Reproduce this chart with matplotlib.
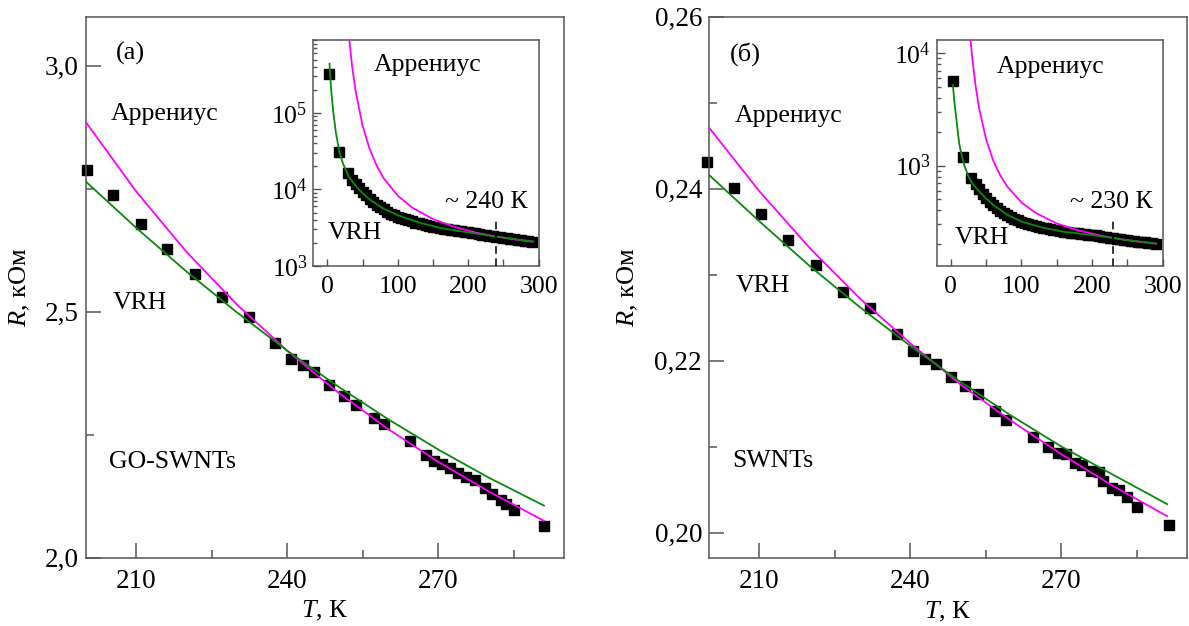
import matplotlib
matplotlib.use('Agg')
import matplotlib.pyplot as plt
from matplotlib.ticker import FixedLocator, FuncFormatter, LogLocator, NullFormatter, LogFormatterSciNotation

plt.rcParams['font.family'] = ['Liberation Serif', 'DejaVu Serif']
plt.rcParams['mathtext.fontset'] = 'custom'
plt.rcParams['mathtext.rm'] = 'Liberation Serif'
plt.rcParams['mathtext.it'] = 'Liberation Serif:italic'

# ---- panel (a): GO-SWNTs, main plot (R in kOhm) ----
T_a = [200.3, 205.4, 210.9, 216.1, 221.8, 227.0, 232.4, 237.6, 240.8, 243.1, 245.3,
       248.4, 251.2, 253.7, 257.3, 259.2, 264.4, 267.5, 269.1, 270.8, 272.3, 273.9,
       275.6, 277.3, 279.2, 280.7, 282.4, 283.4, 285.1, 291.0]
R_a = [2.789, 2.738, 2.679, 2.628, 2.577, 2.530, 2.490, 2.437, 2.405, 2.391, 2.377,
       2.351, 2.328, 2.310, 2.285, 2.271, 2.237, 2.209, 2.197, 2.190, 2.182, 2.173,
       2.165, 2.159, 2.141, 2.129, 2.117, 2.109, 2.097, 2.064]
T_fit = [200, 210, 220, 230, 240, 250, 260, 270, 280, 291]
arr_a = [2.886, 2.745, 2.622, 2.515, 2.421, 2.337, 2.262, 2.195, 2.135, 2.075]
vrh_a = [2.765, 2.671, 2.582, 2.499, 2.421, 2.349, 2.282, 2.220, 2.163, 2.106]

# ---- panel (b): SWNTs, main plot ----
T_b = [199.7, 205.0, 210.4, 215.7, 221.3, 226.7, 232.0, 237.4, 240.6, 242.9, 245.0,
       248.1, 250.9, 253.5, 256.9, 259.0, 264.4, 267.3, 269.4, 271.0, 272.7, 274.0,
       275.8, 277.4, 278.2, 280.0, 281.5, 283.0, 285.1, 291.3]
R_b = [0.2431, 0.2401, 0.2371, 0.2340, 0.2311, 0.2280, 0.2261, 0.2231, 0.2211, 0.2202,
       0.2196, 0.2181, 0.2170, 0.2161, 0.2141, 0.2131, 0.2111, 0.2100, 0.2092, 0.2091,
       0.2081, 0.2079, 0.2071, 0.2070, 0.2060, 0.2052, 0.2050, 0.2041, 0.2030, 0.2009]
arr_b = [0.2471, 0.2397, 0.2331, 0.2272, 0.2220, 0.2172, 0.2130, 0.2091, 0.2055, 0.2019]
vrh_b = [0.2416, 0.2362, 0.2310, 0.2262, 0.2217, 0.2175, 0.2136, 0.2100, 0.2068, 0.2033]

# ---- insets (R in Ohm, log scale) ----
T_in = [3, 17, 29, 35, 40, 45, 50, 55, 60, 65, 70, 75, 80, 85, 90, 95, 100, 105, 110,
        115, 120, 125, 130, 135, 140, 145, 150, 155, 160, 165, 170, 175, 180, 185, 190,
        195, 200, 205, 210, 215, 220, 225, 230, 235, 240, 245, 250, 255, 260, 265, 270,
        275, 280, 285, 290]
Rin_a = [3.2e5, 3.1e4, 1.65e4, 1.35e4, 1.18e4, 1.04e4, 9.3e3, 8.4e3, 7.6e3, 6.9e3,
         6.3e3, 5.9e3, 5.5e3, 5.15e3, 4.85e3, 4.6e3, 4.4e3, 4.25e3, 4.1e3, 3.95e3,
         3.82e3, 3.7e3, 3.6e3, 3.5e3, 3.42e3, 3.35e3, 3.28e3, 3.21e3, 3.15e3, 3.09e3,
         3.03e3, 2.98e3, 2.93e3, 2.88e3, 2.84e3, 2.80e3, 2.78e3, 2.74e3, 2.68e3, 2.63e3,
         2.58e3, 2.53e3, 2.49e3, 2.45e3, 2.41e3, 2.38e3, 2.34e3, 2.30e3, 2.27e3, 2.24e3,
         2.20e3, 2.16e3, 2.13e3, 2.10e3, 2.07e3]
Rin_b = [5.6e3, 1.19e3, 775, 680, 615, 560, 515, 478, 447, 420, 398, 378, 362, 348, 336,
         325, 316, 308, 301, 295, 290, 285, 280, 276, 272, 268, 265, 262, 259, 256, 253.5,
         251, 249, 246.5, 244.5, 242.5, 243, 240, 237, 234, 231, 228.5, 226, 223.5, 221,
         219.5, 217, 215, 213, 211, 209, 207.5, 205.5, 203, 201]

T_vrh_in_a = [3, 5, 8, 12, 17, 22, 30, 40, 50, 60, 80, 100, 130, 160, 200, 240, 270, 292]
vrh_in_a = [4.4e5, 2.2e5, 1.1e5, 5.6e4, 3.1e4, 2.2e4, 1.5e4, 1.12e4, 8.9e3, 7.4e3,
            5.6e3, 4.6e3, 3.7e3, 3.15e3, 2.74e3, 2.42e3, 2.22e3, 2.10e3]
T_arr_in_a = [30, 35, 40, 50, 60, 70, 80, 100, 120, 150, 180, 210, 240, 270, 291]
arr_in_a = [1.14e6, 4.17e5, 1.96e5, 6.83e4, 3.38e4, 2.05e4, 1.40e4, 8.29e3, 5.83e3,
            4.10e3, 3.25e3, 2.74e3, 2.42e3, 2.195e3, 2.075e3]

T_vrh_in_b = [3, 5, 8, 12, 17, 20, 25, 30, 40, 50, 60, 80, 100, 130, 160, 200, 240, 270, 291]
vrh_in_b = [5.2e3, 3.7e3, 2.55e3, 1.55e3, 1.12e3, 970, 800, 700, 590, 510, 448, 365,
            318, 281, 258, 241.6, 221.7, 210, 203.3]
T_arr_in_b = [27, 30, 35, 40, 50, 60, 70, 80, 100, 120, 150, 180, 210, 240, 270, 291]
arr_in_b = [1.54e4, 9.55e3, 5.17e3, 3.26e3, 1.71e3, 1.11e3, 819, 650, 471, 380, 306,
            266, 240, 222, 209, 202]

GREY = '#555555'
MAG = '#ff00ff'
GRN = '#0a8a0a'


def style_main(ax):
    for s in ax.spines.values():
        s.set_color(GREY)
        s.set_linewidth(1.1)
    ax.tick_params(which='both', direction='in', top=False, right=False,
                   color=GREY, labelsize=19.5, width=1.1)
    ax.tick_params(which='major', length=11, pad=5)
    ax.tick_params(axis='x', which='major', pad=8)
    ax.tick_params(which='minor', length=6)
    ax.xaxis.set_major_locator(FixedLocator([210, 240, 270]))
    ax.xaxis.set_minor_locator(FixedLocator([225, 255, 285]))
    ax.set_xlim(200, 295)
    ax.set_xlabel('$T$, К', fontsize=19)


def style_inset(ax):
    for s in ax.spines.values():
        s.set_color(GREY)
        s.set_linewidth(1.1)
    ax.set_yscale('log')
    ax.tick_params(which='both', direction='in', top=False, right=False,
                   color=GREY, labelsize=18.5, width=1.0)
    ax.tick_params(axis='y', which='major', length=6, pad=4)
    ax.tick_params(axis='y', which='minor', length=3)
    ax.tick_params(axis='x', which='both', length=5, pad=7)
    ax.xaxis.set_major_locator(FixedLocator([0, 100, 200, 300]))
    ax.xaxis.set_minor_locator(FixedLocator([50, 150, 250]))
    ax.yaxis.set_major_locator(LogLocator(base=10))
    ax.yaxis.set_major_formatter(LogFormatterSciNotation())
    ax.yaxis.set_minor_locator(LogLocator(base=10, subs=range(2, 10)))
    ax.yaxis.set_minor_formatter(NullFormatter())
    ax.set_xlim(-20, 301)


fig = plt.figure(figsize=(11.89, 6.26), dpi=100)
ax_a = fig.add_axes([0.0721, 0.1091, 0.4023, 0.8642])
ax_b = fig.add_axes([0.5963, 0.1081, 0.4023, 0.8652])
ins_a = fig.add_axes([0.2635, 0.5751, 0.1901, 0.3610])
ins_b = fig.add_axes([0.7878, 0.5751, 0.1906, 0.3610])

# main (a)
style_main(ax_a)
ax_a.plot(T_a, R_a, 's', color='black', ms=7, zorder=2, clip_on=False)
ax_a.plot(T_fit, arr_a, color=MAG, lw=1.3, zorder=3)
ax_a.plot(T_fit, vrh_a, color=GRN, lw=1.3, zorder=3)
ax_a.set_ylim(2.0, 3.1)
ax_a.yaxis.set_major_locator(FixedLocator([2.0, 2.5, 3.0]))
ax_a.yaxis.set_minor_locator(FixedLocator([2.25, 2.75]))
ax_a.yaxis.set_major_formatter(FuncFormatter(lambda v, p: f'{v:.1f}'.replace('.', ',')))
ax_a.set_ylabel('$R$, кОм', fontsize=19)
ax_a.yaxis.set_label_coords(-0.112, 0.5)
ax_a.xaxis.set_label_coords(0.5, -0.076)
ax_a.text(0.0634, 0.933, '(а)', transform=ax_a.transAxes, fontsize=19, va='center')
ax_a.text(0.053, 0.820, 'Аррениус', transform=ax_a.transAxes, fontsize=18.5, va='center')
ax_a.text(0.057, 0.4706, 'VRH', transform=ax_a.transAxes, fontsize=18.5, va='center')
ax_a.text(0.0487, 0.177, 'GO-SWNTs', transform=ax_a.transAxes, fontsize=18.5, va='center')

# main (b)
style_main(ax_b)
ax_b.plot(T_b, R_b, 's', color='black', ms=7, zorder=2, clip_on=False)
ax_b.plot(T_fit, arr_b, color=MAG, lw=1.3, zorder=3)
ax_b.plot(T_fit, vrh_b, color=GRN, lw=1.3, zorder=3)
ax_b.set_ylim(0.197, 0.26)
ax_b.yaxis.set_major_locator(FixedLocator([0.20, 0.22, 0.24, 0.26]))
ax_b.yaxis.set_minor_locator(FixedLocator([0.21, 0.23, 0.25]))
ax_b.yaxis.set_major_formatter(FuncFormatter(lambda v, p: f'{v:.2f}'.replace('.', ',')))
ax_b.set_ylabel('$R$, кОм', fontsize=19)
ax_b.yaxis.set_label_coords(-0.144, 0.5)
ax_b.xaxis.set_label_coords(0.5, -0.076)
ax_b.text(0.0439, 0.931, '(б)', transform=ax_b.transAxes, fontsize=19, va='center')
ax_b.text(0.0544, 0.8166, 'Аррениус', transform=ax_b.transAxes, fontsize=18.5, va='center')
ax_b.text(0.0565, 0.502, 'VRH', transform=ax_b.transAxes, fontsize=18.5, va='center')
ax_b.text(0.048, 0.180, 'SWNTs', transform=ax_b.transAxes, fontsize=18.5, va='center')

# inset (a)
style_inset(ins_a)
ins_a.plot(T_in, Rin_a, 's', color='black', ms=6.5, zorder=2)
ins_a.plot(T_arr_in_a, arr_in_a, color=MAG, lw=1.3, zorder=3)
ins_a.plot(T_vrh_in_a, vrh_in_a, color=GRN, lw=1.3, zorder=3)
ins_a.set_ylim(1e3, 9e5)
ins_a.plot([240, 240], [1e3, 4.0e3], color='black', lw=1.1, ls=(0, (5, 3)), zorder=4)
ins_a.text(0.269, 0.889, 'Аррениус', transform=ins_a.transAxes, fontsize=18.5, va='center')
ins_a.text(0.065, 0.146, 'VRH', transform=ins_a.transAxes, fontsize=18.5, va='center')
ins_a.text(0.582, 0.283, '~ 240 К', transform=ins_a.transAxes, fontsize=18.5, va='center')

# inset (b)
style_inset(ins_b)
ins_b.plot(T_in, Rin_b, 's', color='black', ms=6.5, zorder=2)
ins_b.plot(T_arr_in_b, arr_in_b, color=MAG, lw=1.3, zorder=3)
ins_b.plot(T_vrh_in_b, vrh_in_b, color=GRN, lw=1.3, zorder=3)
ins_b.set_ylim(128, 1.31e4)
ins_b.plot([230, 230], [128, 340], color='black', lw=1.1, ls=(0, (5, 3)), zorder=4)
ins_b.text(0.266, 0.881, 'Аррениус', transform=ins_b.transAxes, fontsize=18.5, va='center')
ins_b.text(0.081, 0.124, 'VRH', transform=ins_b.transAxes, fontsize=18.5, va='center')
ins_b.text(0.588, 0.283, '~ 230 К', transform=ins_b.transAxes, fontsize=18.5, va='center')

fig.savefig('out.png', dpi=100)
